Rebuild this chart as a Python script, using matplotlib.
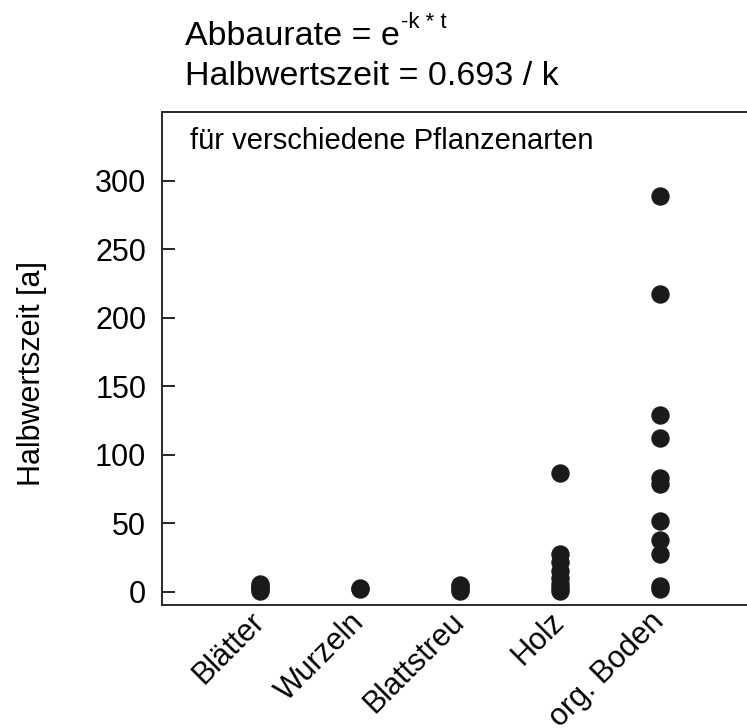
import matplotlib.pyplot as plt

categories = ["Blätter", "Wurzeln", "Blattstreu", "Holz", "org. Boden"]
blaetter = [1, 2, 3, 4, 6]
wurzeln = [2, 3]
blattstreu = [1, 2, 4, 5]
holz = [1, 3, 6, 10, 15, 22, 28, 87]
org_boden = [2, 4, 28, 38, 52, 79, 83, 112, 129, 217, 289]
groups = [blaetter, wurzeln, blattstreu, holz, org_boden]

plt.rcParams['font.family'] = ['Liberation Sans', 'DejaVu Sans']

W, H = 747, 728
fig = plt.figure(figsize=(W / 100, H / 100), dpi=100)
ax = fig.add_axes([0.217, 0.169, 0.783, 0.677])

for i, vals in enumerate(groups):
    ax.scatter([i + 1] * len(vals), vals, s=150, color="#1a1a1a", zorder=3)

ax.set_xlim(0.02, 5.87)
ax.set_ylim(-9.5, 350)
ax.set_yticks([0, 50, 100, 150, 200, 250, 300])
ax.tick_params(axis="y", labelsize=22, length=9.4, width=1.2, direction="in", pad=11.5)
ax.set_xticks(range(1, 6))
ax.set_xticklabels(categories, rotation=45, ha="right", va="center",
                   rotation_mode="anchor", fontsize=22)
ax.tick_params(axis="x", length=0, pad=9)
ax.spines["right"].set_visible(False)
for s in ["left", "top", "bottom"]:
    ax.spines[s].set_linewidth(1.4)
    ax.spines[s].set_color("#2a2a2a")

ax.set_ylabel("Halbwertszeit [a]", fontsize=22)
ax.yaxis.set_label_coords(-0.197, 0.47)
ax.text(0.048, 323, "für verschiedene Pflanzenarten", transform=ax.get_yaxis_transform(),
        fontsize=21, va="baseline", ha="left")

t1 = fig.text(185 / W, 1 - 45 / H, "Abbaurate = e", fontsize=24.5, ha="left", va="baseline")
fig.text(185 / W, 1 - 85 / H, "Halbwertszeit = 0.693 / k", fontsize=24.5, ha="left", va="baseline")
fig.canvas.draw()
bb = t1.get_window_extent()
fig.text((bb.x1 + 1) / W, 1 - 28 / H, "-k * t", fontsize=16, ha="left", va="baseline")

fig.savefig("out.png", dpi=100)
